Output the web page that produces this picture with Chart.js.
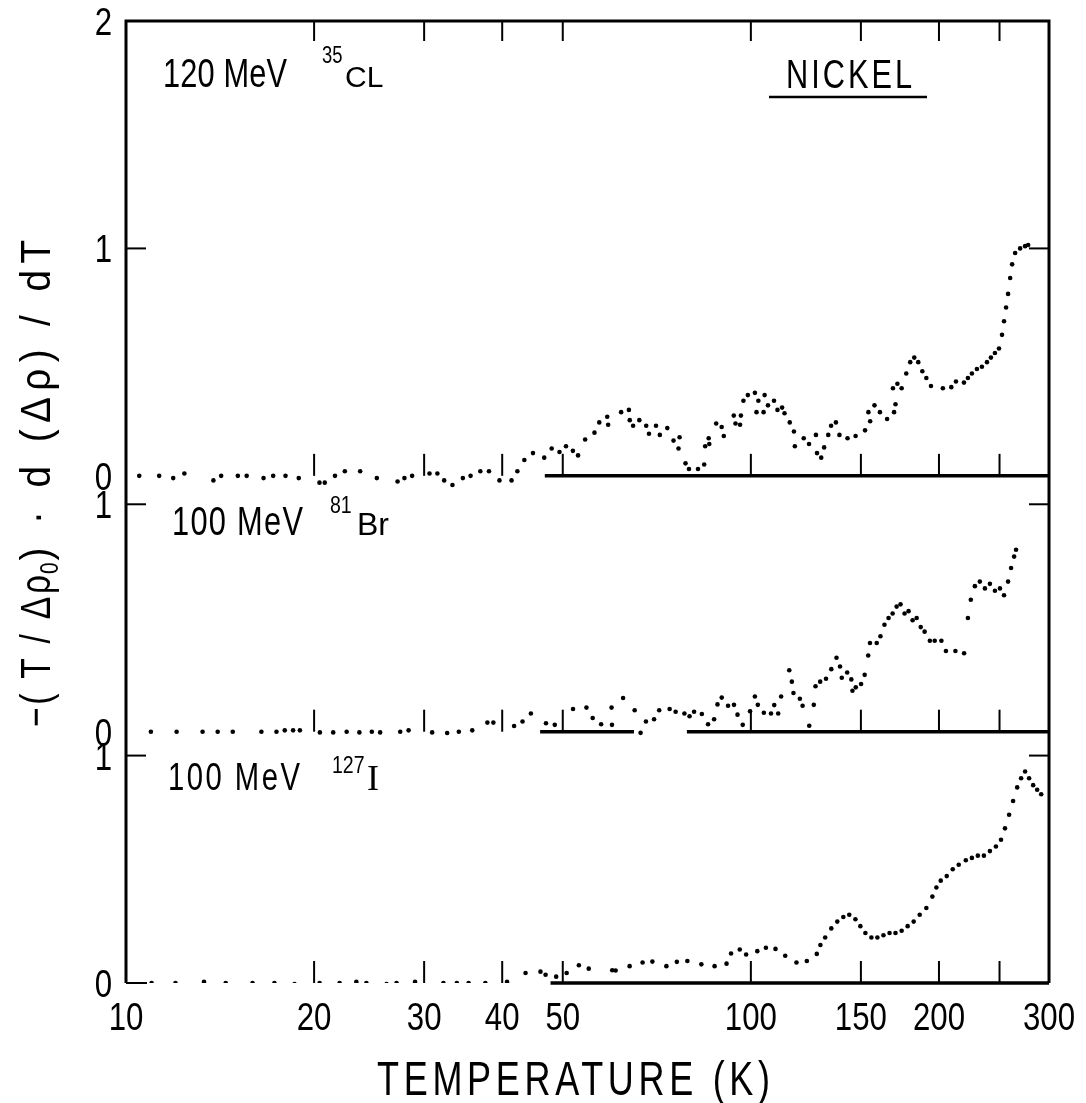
<!DOCTYPE html>
<html>
<head>
<meta charset="utf-8">
<script src="https://cdn.jsdelivr.net/npm/chart.js@4.4.1/dist/chart.umd.min.js"></script>
<style>
  html, body { margin: 0; padding: 0; background: #fff; }
  #wrap { width: 1086px; height: 1103px; position: relative; }
</style>
</head>
<body>
<div id="wrap"><canvas id="chart"></canvas></div>
<script>
const FONT = "'Liberation Sans', Arial, sans-serif";
const SERIF = "'Liberation Serif', serif";

// temperature axis (K), log scale
const xTicks  = [10, 20, 30, 40, 50, 100, 150, 200, 250, 300];
const xLabels = ['10', '20', '30', '40', '50', '100', '150', '200', '', '300'];

// each panel sits on its own zero; bottom, middle, top
const panelOffsets = [0, 1.105, 2.23];
const panelLevels  = [[0, 1], [0, 1], [0, 1, 2]];
const panelNames   = [['100 MeV', '127', 'I'], ['100 MeV', '81', 'Br'], ['120 MeV', '35', 'CL']];
// temperature spans of the drawn zero lines
const zeroSpans = [[[47.8, 300]], [[46, 65], [79, 300]], [[46.8, 300]]];

// 100 MeV 127I
const iT = [10.99, 12.0, 13.33, 14.44, 15.94, 17.28, 18.61, 20.41, 21.97, 23.37,
  24.25, 26.12, 27.1, 29.01, 32.21, 33.84, 35.34, 37.59, 40.72, 43.59,
  46.06, 46.93, 48.8, 50.72, 53.06, 55.02, 60.0, 60.76, 63.97, 67.1,
  69.56, 73.25, 76.13, 79.14, 83.32, 87.49, 91.43, 92.96, 95.99, 98.27,
  102.4, 105.7, 109.5, 113.5, 118.3, 122.9, 127.5, 129.2, 131.5, 134.5,
  137.5, 140.6, 143.7, 147, 149.7, 152.5, 155.9, 159.4, 163, 166.7,
  170.4, 174.3, 178.2, 182.2, 186.3, 190.9, 195.2, 198.1, 201.3, 205.8,
  210.4, 215.1, 220.8, 225.8, 230.8, 236, 241.3, 246.7, 251.4, 255.1,
  259, 262.8, 266.8, 270.7, 274.7, 278.8, 283, 287.2, 291.5];
const iV = [0, 0, 0.005, 0, 0, 0, -0.005, 0, 0, 0.005,
  0, -0.005, 0, 0.005, 0, 0, 0, 0, 0.005, 0.044,
  0.05, 0.036, 0.028, 0.044, 0.078, 0.063, 0.056, 0.055, 0.074, 0.09,
  0.094, 0.074, 0.093, 0.097, 0.082, 0.074, 0.085, 0.13, 0.147, 0.125,
  0.14, 0.155, 0.15, 0.12, 0.09, 0.097, 0.128, 0.167, 0.20, 0.24,
  0.27, 0.29, 0.30, 0.28, 0.25, 0.22, 0.20, 0.20, 0.21, 0.22,
  0.22, 0.23, 0.25, 0.27, 0.30, 0.33, 0.38, 0.42, 0.45, 0.47,
  0.50, 0.52, 0.54, 0.55, 0.56, 0.56, 0.58, 0.60, 0.63, 0.68,
  0.74, 0.80, 0.86, 0.90, 0.93, 0.90, 0.87, 0.85, 0.83];

// 100 MeV 81Br
const brT = [10.96, 12.05, 13.26, 14.02, 14.82, 16.47, 17.41, 17.95, 18.51, 18.98,
  20.43, 21.46, 22.55, 23.63, 24.74, 25.51, 27.47, 28.33, 30.9, 32.66,
  34.09, 35.82, 37.87, 38.72, 41.79, 43.11, 44.46,
  47.0, 48.55, 51.93, 54.56, 55.83, 57.59, 59.85, 59.94, 62.45, 65.17,
  66.61, 67.93, 70.0, 71.33, 74.13, 75.79, 78.28, 79.78, 81.12, 83.47,
  85.41, 87.33, 88.43, 89.82, 91.94, 93.97, 95.2, 97.05, 99.7, 101.5,
  102.6, 104.9, 107.7, 109.0, 110.6, 111.8, 115.2, 116.3, 117.0, 119.8,
  121.0, 124.0, 126.1, 126.9, 129.1, 131.9, 134.5, 137.1, 138.9, 139.8,
  142.6, 144.8, 145.4, 147.2, 150.1, 152.1, 154.1, 155.1, 159.0,
  161.2, 163.6, 166.1, 168.6, 171.1, 173.6, 176.2, 178.8, 181.5, 184.2,
  187, 189.7, 193.4, 196.9, 201.8, 205.2, 212.5, 219.4, 222.5, 224.9,
  228.3, 232.5, 236.9, 241.3, 245.8, 250.4, 254.2, 258.0, 260.9, 263.8,
  265.7];
const brV = [0, 0, 0, 0, 0, 0, 0, 0.006, 0.006, 0.006,
  -0.003, -0.003, 0, -0.003, 0, -0.003, 0, 0.006, -0.003, -0.006,
  0, 0.006, 0.04, 0.04, 0.025, 0.045, 0.08,
  0.037, 0.03, 0.10, 0.106, 0.06, 0.033, 0.106, 0.03, 0.148, 0.094,
  -0.005, 0.045, 0.055, 0.094, 0.10, 0.088, 0.08, 0.068, 0.088, 0.078,
  0.033, 0.055, 0.12, 0.15, 0.114, 0.118, 0.075, 0.03, 0.09, 0.155,
  0.118, 0.083, 0.08, 0.117, 0.08, 0.155, 0.27, 0.22, 0.17, 0.145,
  0.114, 0.026, 0.118, 0.20, 0.22, 0.233, 0.275, 0.325, 0.287, 0.237,
  0.26, 0.23, 0.18, 0.195, 0.21, 0.25, 0.335, 0.39, 0.39,
  0.42, 0.47, 0.50, 0.52, 0.55, 0.56, 0.52, 0.53, 0.49, 0.50,
  0.46, 0.44, 0.40, 0.40, 0.40, 0.355, 0.355, 0.345, 0.50, 0.58,
  0.64, 0.66, 0.63, 0.65, 0.62, 0.63, 0.60, 0.66, 0.72, 0.77,
  0.80];

// 120 MeV 35Cl
const clT = [10.5, 11.3, 11.9, 12.4, 13.8, 14.2, 15.1, 15.6, 16.6, 17.2,
  18.0, 18.9, 20.4, 20.8, 21.6, 22.4, 23.7, 25.2, 27.2, 27.9,
  28.7, 30.6, 31.5, 32.3, 33.3, 34.6, 35.6, 36.9, 38.1, 39.6,
  41.4, 42.3, 43.4, 44.8, 46.7, 48.0, 49.4, 50.6, 51.9, 52.9,
  54.3, 56.2, 57.2, 58.9, 59.1, 62.0, 63.8, 64.0, 64.8, 66.3,
  68.0, 68.7, 70.5, 71.5, 73.5, 75.2, 76.6, 76.9, 78.6, 79.6,
  82.3, 84.2, 84.5, 85.6, 85.8, 88.0, 89.8, 90.5, 93.9, 94.5,
  96.1, 96.4, 97.3, 98.9, 101.5, 102.1, 102.8, 104.8, 105.2, 106.5,
  108.9, 110.3, 112.2, 113.2, 115.4, 117.2, 117.6, 121.5, 123.9, 127.1,
  127.6, 129.6, 131.0, 133.0, 134.4, 136.8, 138.6, 142.8, 147.1, 152.3,
  154.2, 155.2, 157.7, 160.9, 165.2, 168.8, 169.5, 170.4, 171.6, 174.3,
  177.3, 179.9, 182.6, 185.3, 188.1, 190.9, 194.2, 202.9, 209.3, 212.9,
  219.3, 222.5, 225.8, 230, 234.3, 238.7, 242.2, 245.8, 249.5, 252.3,
  254.2, 256.1, 258, 260, 261.9, 264.8, 269.7, 274.7, 277.8];
const clV = [0, 0, -0.01, 0.01, -0.02, 0, 0, 0, -0.01, 0,
  0, -0.01, -0.03, -0.03, 0, 0.02, 0.02, -0.01, -0.025, -0.01,
  0, 0.01, 0.01, -0.02, -0.04, -0.01, 0, 0.02, 0.02, -0.02,
  -0.02, 0.02, 0.07, 0.10, 0.08, 0.12, 0.105, 0.13, 0.11, 0.09,
  0.16, 0.19, 0.235, 0.26, 0.225, 0.28, 0.29, 0.245, 0.22, 0.245,
  0.22, 0.185, 0.22, 0.18, 0.21, 0.155, 0.12, 0.17, 0.055, 0.03,
  0.03, 0.05, 0.13, 0.165, 0.14, 0.23, 0.215, 0.175, 0.265, 0.23,
  0.225, 0.265, 0.33, 0.355, 0.365, 0.28, 0.33, 0.28, 0.355, 0.31,
  0.33, 0.29, 0.30, 0.275, 0.235, 0.195, 0.13, 0.165, 0.14, 0.18,
  0.10, 0.08, 0.125, 0.18, 0.22, 0.235, 0.18, 0.165, 0.175, 0.20,
  0.28, 0.24, 0.31, 0.28, 0.25, 0.385, 0.28, 0.315, 0.405, 0.385,
  0.45, 0.50, 0.52, 0.50, 0.46, 0.43, 0.395, 0.385, 0.39, 0.415,
  0.41, 0.43, 0.45, 0.47, 0.48, 0.50, 0.52, 0.54, 0.56, 0.62,
  0.68, 0.74, 0.80, 0.87, 0.93, 0.98, 1.0, 1.01, 1.015];

const series = [[iT, iV], [brT, brV], [clT, clV]];

// y ticks: every labelled level of every panel
const yTickValues = [];
const yTickText = [];
panelOffsets.forEach((off, p) => panelLevels[p].forEach(l => {
  yTickValues.push(off + l);
  yTickText.push(String(l));
}));
const yMax = panelOffsets[2] + 2;

// narrow plotter-style lettering: squeeze horizontally, then spread to a given width
function stretched(ctx, s, x, yb, size, opts = {}) {
  const squeeze = opts.squeeze || 0.8;
  ctx.save();
  ctx.font = `${size}px ${opts.family || FONT}`;
  ctx.letterSpacing = '0px';
  const w0 = ctx.measureText(s).width;
  let ls = 0;
  if (opts.width && s.length > 1) ls = Math.max(0, (opts.width / squeeze - w0) / (s.length - 1));
  const w = (w0 + ls * (s.length - 1)) * squeeze;
  let x0 = x;
  if (opts.align === 'center') x0 = x - w / 2;
  else if (opts.align === 'right') x0 = x - w;
  ctx.translate(x0, yb);
  ctx.scale(squeeze, 1);
  ctx.letterSpacing = ls + 'px';
  ctx.fillText(s, 0, 0);
  ctx.restore();
  return w;
}

const frame = {
  id: 'frame',
  beforeDatasetsDraw(chart) {
    const { ctx, chartArea: a, scales: { x, y } } = chart;
    const seg = (x1, y1, x2, y2) => { ctx.beginPath(); ctx.moveTo(x1, y1); ctx.lineTo(x2, y2); ctx.stroke(); };
    const inner = xTicks.slice(1, -1);
    ctx.save();
    ctx.strokeStyle = '#000';
    ctx.lineWidth = 3;
    ctx.beginPath();
    ctx.moveTo(a.left, a.bottom);
    ctx.lineTo(a.left, a.top);
    ctx.lineTo(a.right, a.top);
    ctx.lineTo(a.right, a.bottom);
    ctx.stroke();

    panelOffsets.forEach((off, p) => {
      const yp = y.getPixelForValue(off);
      ctx.lineWidth = 3.5;
      zeroSpans[p].forEach(([t0, t1]) => seg(x.getPixelForValue(t0), yp, x.getPixelForValue(t1), yp));
      ctx.lineWidth = 2;
      inner.forEach(t => { const xp = x.getPixelForValue(t); seg(xp, yp, xp, yp - 22); });
      // level ticks on the side edges
      panelLevels[p].forEach(l => {
        const ly = y.getPixelForValue(off + l);
        if (l === 1) {
          seg(a.left, ly, a.left + 20, ly);
          seg(a.right, ly, a.right - 20, ly);
        } else if (l === 0 && p === 0) {
          seg(a.left, ly, a.left + 21, ly);
        }
      });
    });
    ctx.lineWidth = 2;
    inner.forEach(t => { const xp = x.getPixelForValue(t); seg(xp, a.top, xp, a.top + 20); });
    ctx.restore();
  }
};

const labels = {
  id: 'labels',
  afterDraw(chart) {
    const { ctx, chartArea: a, scales: { x, y } } = chart;
    ctx.save();
    ctx.fillStyle = '#000';
    ctx.strokeStyle = '#000';
    ctx.textBaseline = 'alphabetic';
    ctx.textAlign = 'left';

    // tick labels
    xTicks.forEach((t, i) => {
      if (xLabels[i]) stretched(ctx, xLabels[i], x.getPixelForValue(t), a.bottom + 47, 39, { squeeze: 0.8, align: 'center' });
    });
    yTickValues.forEach((v, i) => {
      stretched(ctx, yTickText[i], a.left - 14, y.getPixelForValue(v) + 14, 39, { squeeze: 0.8, align: 'right' });
    });

    // panel captions: energy, mass number, ion
    const [bot, mid, top] = panelNames;
    stretched(ctx, top[0], 163, 87, 40, { width: 124, squeeze: 0.77 });
    stretched(ctx, top[1], 322, 63, 23, { squeeze: 0.8 });
    stretched(ctx, top[2], 345, 87, 30, { squeeze: 1 });
    stretched(ctx, mid[0], 172, 535, 40, { width: 131, squeeze: 0.77 });
    stretched(ctx, mid[1], 330, 513, 23, { squeeze: 0.85 });
    stretched(ctx, mid[2], 357, 535, 32, { squeeze: 1 });
    stretched(ctx, bot[0], 168, 790, 38, { width: 132, squeeze: 0.77 });
    stretched(ctx, bot[1], 332, 773, 23, { squeeze: 0.85 });
    stretched(ctx, bot[2], 367, 790, 36, { family: SERIF, squeeze: 1 });

    stretched(ctx, 'NICKEL', 786, 88, 41, { width: 126, squeeze: 0.75 });
    ctx.lineWidth = 2.5;
    ctx.beginPath(); ctx.moveTo(769, 97); ctx.lineTo(927, 97); ctx.stroke();

    // x title
    stretched(ctx, 'TEMPERATURE (K)', 377, 1095, 48, { width: 393, squeeze: 0.75 });

    // y title, rotated, with a subscript zero
    ctx.translate(50, 727);
    ctx.rotate(-Math.PI / 2);
    let cx = 0;
    cx += stretched(ctx, '−( T / Δρ', cx, 0, 42, { width: 152, squeeze: 0.8 });
    cx += stretched(ctx, '0', cx + 1, 8, 26, { squeeze: 0.8 }) + 3;
    stretched(ctx, ') · d (Δρ) / dT', cx, 0, 42, { width: 487 - cx, squeeze: 0.92 });
    ctx.restore();
  }
};

new Chart(document.getElementById('chart'), {
  type: 'scatter',
  data: {
    datasets: series.map(([ts, vs], p) => ({
      data: ts.map((t, i) => ({ x: t, y: vs[i] + panelOffsets[p] })),
      pointRadius: 2.3,
      pointBackgroundColor: '#000',
      pointBorderWidth: 0,
      showLine: false
    }))
  },
  options: {
    responsive: true,
    maintainAspectRatio: false,
    animation: false,
    layout: { padding: { left: 0, right: 37, top: 21, bottom: 0 } },
    plugins: { legend: { display: false }, tooltip: { enabled: false } },
    scales: {
      x: {
        type: 'logarithmic',
        min: 10, max: 300,
        grid: { display: false },
        border: { display: false },
        afterBuildTicks: s => { s.ticks = xTicks.map(v => ({ value: v })); },
        afterFit: s => { s.height = 120; },
        ticks: { display: false }
      },
      y: {
        min: 0, max: yMax,
        grid: { display: false },
        border: { display: false },
        afterBuildTicks: s => { s.ticks = yTickValues.map(v => ({ value: v })); },
        afterFit: s => { s.width = 126; },
        ticks: { display: false }
      }
    }
  },
  plugins: [frame, labels]
});
</script>
</body>
</html>
